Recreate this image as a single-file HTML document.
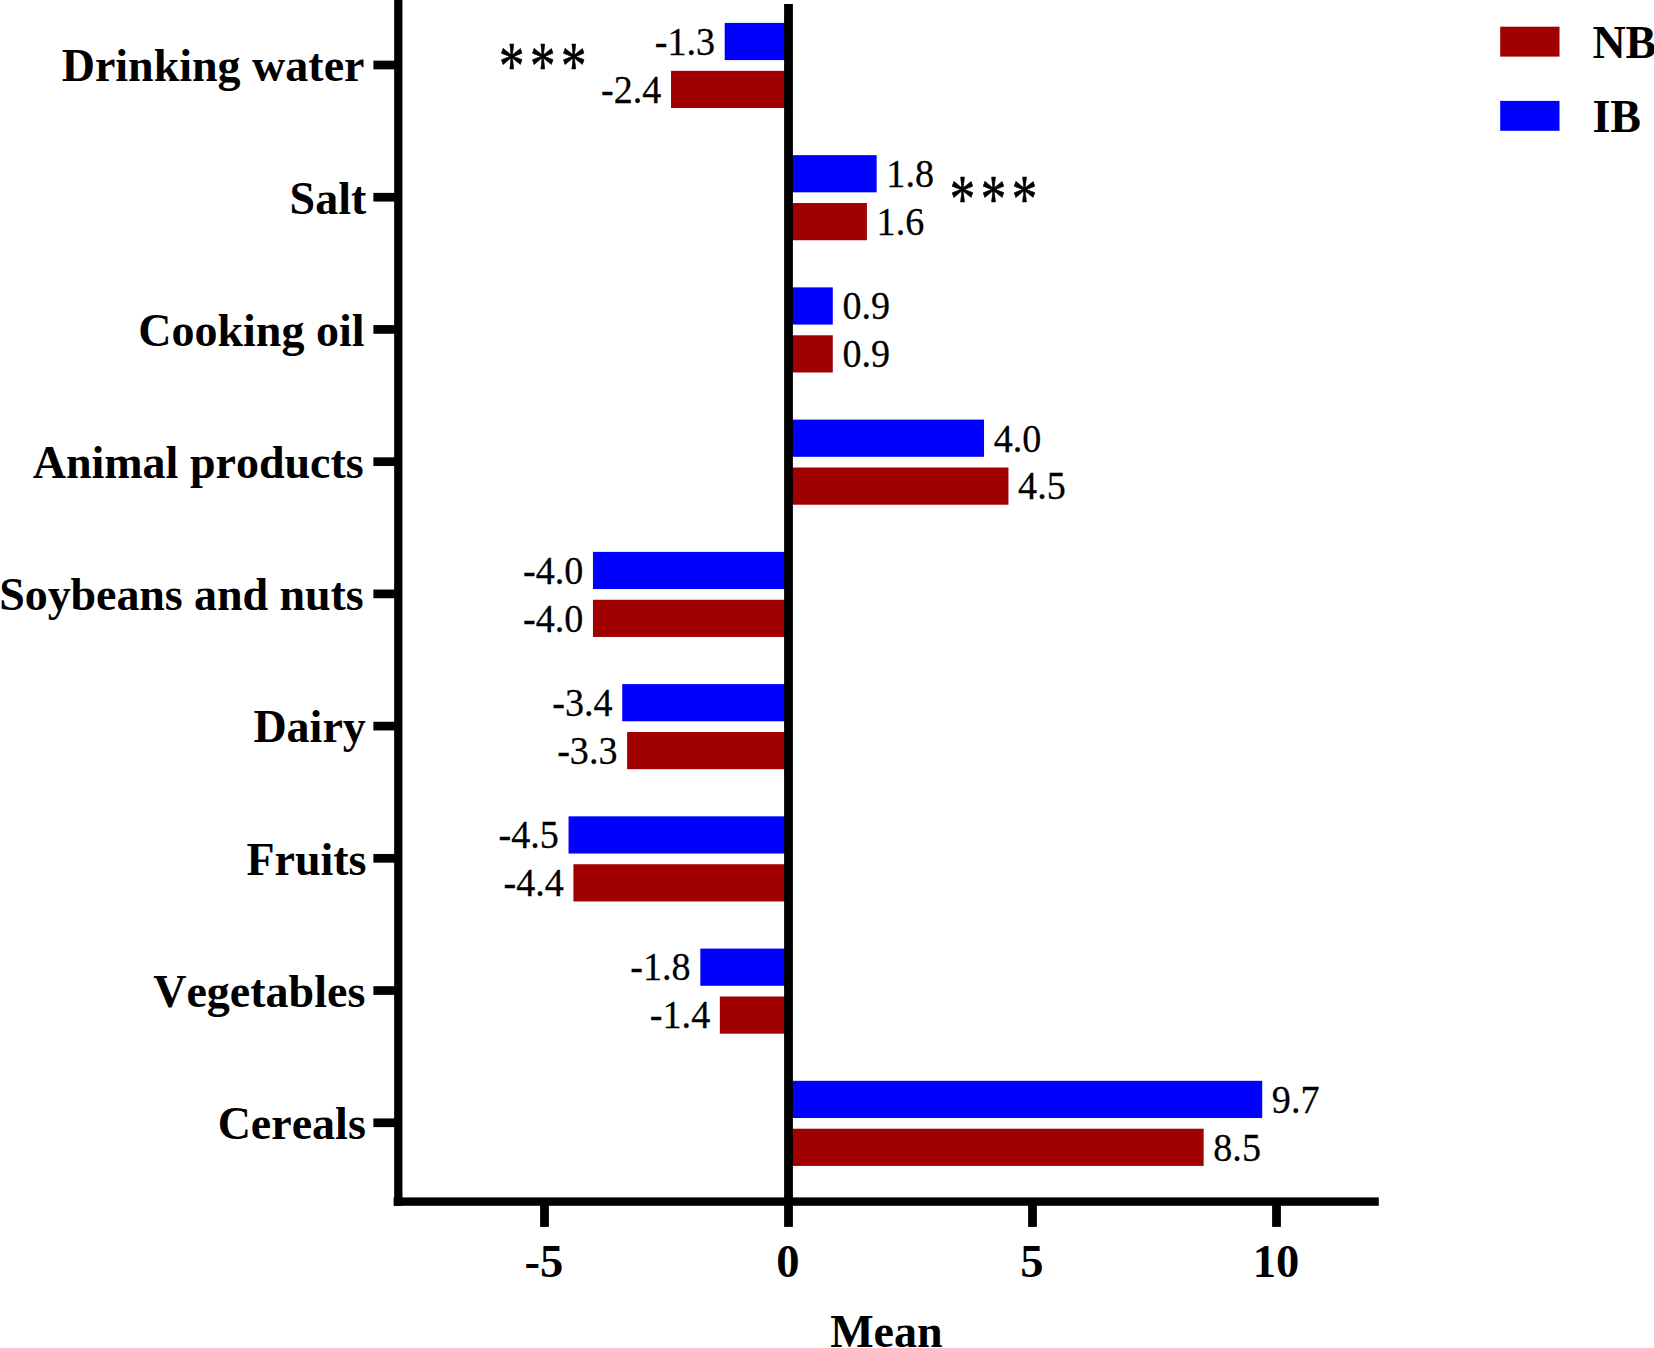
<!DOCTYPE html>
<html lang="en">
<head>
<meta charset="utf-8">
<title>Mean by food group</title>
<style>
html,body{margin:0;padding:0;background:#fff;}
body{width:1654px;height:1348px;overflow:hidden;}
svg{display:block;}
text{font-family:"Liberation Serif","Times New Roman",Times,serif;fill:#000;font-kerning:none;font-variant-ligatures:none;}
.lab{font-weight:bold;font-size:46px;}
.tk{font-size:46.6px;}
.val{font-size:39.4px;stroke:#000;stroke-width:0.25px;}
.star{font-size:51px;letter-spacing:5.4px;stroke:#000;stroke-width:0.5px;stroke-linejoin:round;}
</style>
</head>
<body>
<svg width="1654" height="1348" viewBox="0 0 1654 1348">
<rect x="0" y="0" width="1654" height="1348" fill="#ffffff"/>
<rect x="724.71" y="22.9" width="63.79" height="37.2" fill="#0000ff"/>
<text class="val" transform="translate(715.06 54.8) scale(0.9675 1)" text-anchor="end">-1.3</text>
<rect x="671.03" y="70.8" width="117.47" height="37.2" fill="#a00000"/>
<text class="val" transform="translate(661.38 102.7) scale(0.9675 1)" text-anchor="end">-2.4</text>
<rect x="788.5" y="155.14" width="88.19" height="37.2" fill="#0000ff"/>
<text class="val" transform="translate(886.34 187.04) scale(0.9675 1)">1.8</text>
<rect x="788.5" y="203.04" width="78.43" height="37.2" fill="#a00000"/>
<text class="val" transform="translate(876.58 234.94) scale(0.9675 1)">1.6</text>
<rect x="788.5" y="287.38" width="44.27" height="37.2" fill="#0000ff"/>
<text class="val" transform="translate(842.42 319.28) scale(0.9675 1)">0.9</text>
<rect x="788.5" y="335.28" width="44.27" height="37.2" fill="#a00000"/>
<text class="val" transform="translate(842.42 367.18) scale(0.9675 1)">0.9</text>
<rect x="788.5" y="419.62" width="195.55" height="37.2" fill="#0000ff"/>
<text class="val" transform="translate(993.7 451.52) scale(0.9675 1)">4.0</text>
<rect x="788.5" y="467.52" width="219.95" height="37.2" fill="#a00000"/>
<text class="val" transform="translate(1018.1 499.42) scale(0.9675 1)">4.5</text>
<rect x="592.95" y="551.86" width="195.55" height="37.2" fill="#0000ff"/>
<text class="val" transform="translate(583.3 583.76) scale(0.9675 1)" text-anchor="end">-4.0</text>
<rect x="592.95" y="599.76" width="195.55" height="37.2" fill="#a00000"/>
<text class="val" transform="translate(583.3 631.66) scale(0.9675 1)" text-anchor="end">-4.0</text>
<rect x="622.23" y="684.1" width="166.27" height="37.2" fill="#0000ff"/>
<text class="val" transform="translate(612.58 716) scale(0.9675 1)" text-anchor="end">-3.4</text>
<rect x="627.11" y="732" width="161.39" height="37.2" fill="#a00000"/>
<text class="val" transform="translate(617.46 763.9) scale(0.9675 1)" text-anchor="end">-3.3</text>
<rect x="568.55" y="816.34" width="219.95" height="37.2" fill="#0000ff"/>
<text class="val" transform="translate(558.9 848.24) scale(0.9675 1)" text-anchor="end">-4.5</text>
<rect x="573.43" y="864.24" width="215.07" height="37.2" fill="#a00000"/>
<text class="val" transform="translate(563.78 896.14) scale(0.9675 1)" text-anchor="end">-4.4</text>
<rect x="700.31" y="948.58" width="88.19" height="37.2" fill="#0000ff"/>
<text class="val" transform="translate(690.66 980.48) scale(0.9675 1)" text-anchor="end">-1.8</text>
<rect x="719.83" y="996.48" width="68.67" height="37.2" fill="#a00000"/>
<text class="val" transform="translate(710.18 1028.38) scale(0.9675 1)" text-anchor="end">-1.4</text>
<rect x="788.5" y="1080.82" width="473.71" height="37.2" fill="#0000ff"/>
<text class="val" transform="translate(1271.86 1112.72) scale(0.9675 1)">9.7</text>
<rect x="788.5" y="1128.72" width="415.15" height="37.2" fill="#a00000"/>
<text class="val" transform="translate(1213.3 1160.62) scale(0.9675 1)">8.5</text>
<rect x="394.15" y="0" width="8.3" height="1205.8" fill="#000"/>
<rect x="393.6" y="1197.4" width="985.2" height="8.4" fill="#000"/>
<rect x="784.1" y="4" width="8.8" height="1222.9" fill="#000"/>
<rect x="540.1" y="1201.6" width="8.8" height="25.3" fill="#000"/>
<rect x="1028.1" y="1201.6" width="8.8" height="25.3" fill="#000"/>
<rect x="1272.1" y="1201.6" width="8.8" height="25.3" fill="#000"/>
<text class="lab tk" x="544" y="1276.6" text-anchor="middle">-5</text>
<text class="lab tk" x="788" y="1276.6" text-anchor="middle">0</text>
<text class="lab tk" x="1032" y="1276.6" text-anchor="middle">5</text>
<text class="lab tk" x="1276" y="1276.6" text-anchor="middle">10</text>
<rect x="373.4" y="60.65" width="22" height="8.7" fill="#000"/>
<text class="lab" x="364.5" y="81.3" text-anchor="end">Drinking water</text>
<rect x="373.4" y="192.87" width="22" height="8.7" fill="#000"/>
<text class="lab" x="366.3" y="213.5" text-anchor="end">Salt</text>
<rect x="373.4" y="325.09" width="22" height="8.7" fill="#000"/>
<text class="lab" x="364.5" y="345.7" text-anchor="end">Cooking oil</text>
<rect x="373.4" y="457.31" width="22" height="8.7" fill="#000"/>
<text class="lab" x="363.7" y="477.9" text-anchor="end">Animal products</text>
<rect x="373.4" y="589.53" width="22" height="8.7" fill="#000"/>
<text class="lab" x="363.5" y="610.1" text-anchor="end" style="letter-spacing:-0.08px">Soybeans and nuts</text>
<rect x="373.4" y="721.75" width="22" height="8.7" fill="#000"/>
<text class="lab" x="365.8" y="742.3" text-anchor="end">Dairy</text>
<rect x="373.4" y="853.97" width="22" height="8.7" fill="#000"/>
<text class="lab" x="366.5" y="874.5" text-anchor="end">Fruits</text>
<rect x="373.4" y="986.19" width="22" height="8.7" fill="#000"/>
<text class="lab" x="365.3" y="1006.7" text-anchor="end">Vegetables</text>
<rect x="373.4" y="1118.41" width="22" height="8.7" fill="#000"/>
<text class="lab" x="365.8" y="1138.9" text-anchor="end">Cereals</text>
<text class="lab" x="886.4" y="1347" text-anchor="middle">Mean</text>
<text class="star" transform="translate(499.12 88.48) scale(1 1.33)">***</text>
<text class="star" transform="translate(949.87 220.58) scale(1 1.33)">***</text>
<rect x="1500.2" y="26.7" width="59.3" height="29.9" fill="#a00000"/>
<rect x="1500.2" y="100.9" width="59.3" height="29.9" fill="#0000ff"/>
<text class="lab" x="1592.4" y="57.9">NB</text>
<text class="lab" x="1592.4" y="132">IB</text>
</svg>
</body>
</html>
